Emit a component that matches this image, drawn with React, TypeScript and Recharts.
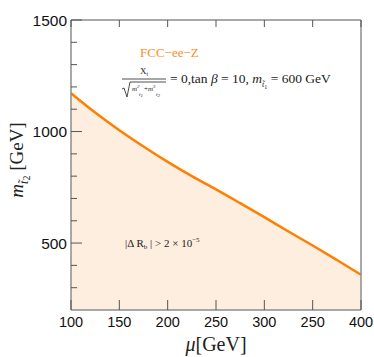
import { ComposedChart, Area, XAxis, YAxis } from 'recharts'

// mu [GeV] vs m_stop2 boundary
const mu = [100, 125, 150, 175, 200, 225, 250, 275, 300, 325, 350, 375, 400]
const mStop2 = [1172, 1085, 1006, 933, 864, 800, 741, 679, 616, 552, 489, 424, 358]

const xTicks = [100, 150, 200, 250, 300, 350, 400]
// the original figure labels 350 as "250"
const xTickLabels = ['100', '150', '200', '250', '300', '250', '400']
const yTicks = [300, 400, 500, 600, 700, 800, 900, 1000, 1100, 1200, 1300, 1400, 1500]
const yMajor = [500, 1000, 1500]

const data = mu.map((m, i) => ({ mu: m, m: mStop2[i] }))

const W = 374
const H = 357
const frame = '#8c8c8c'
const tickColor = '#555'
const orange = '#ff8000'
const sans = "'Liberation Sans', Arial, sans-serif"
const serif = "'Liberation Serif', 'Times New Roman', serif"

function BottomTick(props: any) {
  const { x, y, payload } = props
  const i = xTicks.indexOf(payload.value)
  return (
    <g>
      <line x1={x} x2={x} y1={y} y2={y - 10} stroke={tickColor} strokeWidth={1} />
      <text x={x} y={y + 17} textAnchor="middle" style={{ fontSize: 14.5, fontFamily: sans }} fill="#111">
        {i >= 0 ? xTickLabels[i] : payload.value}
      </text>
    </g>
  )
}

function TopTick(props: any) {
  const { x, y } = props
  return <line x1={x} x2={x} y1={y} y2={y + 7} stroke={tickColor} strokeWidth={1} />
}

function LeftTick(props: any) {
  const { x, y, payload } = props
  const major = yMajor.includes(payload.value)
  return (
    <g>
      <line x1={x} x2={x + (major ? 11 : 6)} y1={y} y2={y} stroke={tickColor} strokeWidth={1} />
      {major && (
        <text x={x - 4} y={y + 5.5} textAnchor="end" style={{ fontSize: 15.5, fontFamily: sans }} fill="#111">
          {payload.value}
        </text>
      )}
    </g>
  )
}

function RightTick(props: any) {
  const { x, y, payload } = props
  const major = yMajor.includes(payload.value)
  return <line x1={x} x2={x - (major ? 11 : 6)} y1={y} y2={y} stroke={tickColor} strokeWidth={1} />
}

export default function App() {
  return (
    <div style={{ position: 'relative', width: W, height: H, background: '#fff' }}>
      <style>{'body{margin:0}'}</style>
      <ComposedChart width={W} height={H} data={data} margin={{ top: 0, right: 0, bottom: 0, left: 0 }}>
        <XAxis
          dataKey="mu"
          type="number"
          domain={[100, 400]}
          ticks={xTicks}
          interval={0}
          height={47}
          tickSize={0}
          tickMargin={0}
          tickLine={false}
          axisLine={{ stroke: frame, strokeWidth: 1.5 }}
          tick={<BottomTick />}
        />
        <XAxis
          xAxisId="top"
          orientation="top"
          dataKey="mu"
          type="number"
          domain={[100, 400]}
          ticks={xTicks}
          interval={0}
          height={20}
          tickSize={0}
          tickMargin={0}
          tickLine={false}
          axisLine={{ stroke: frame, strokeWidth: 1.5 }}
          tick={<TopTick />}
        />
        <YAxis
          type="number"
          domain={[200, 1500]}
          ticks={yTicks}
          interval={0}
          width={71}
          tickSize={0}
          tickMargin={0}
          tickLine={false}
          axisLine={{ stroke: frame, strokeWidth: 1.5 }}
          tick={<LeftTick />}
        />
        <YAxis
          yAxisId="right"
          orientation="right"
          type="number"
          domain={[200, 1500]}
          ticks={yTicks}
          interval={0}
          width={13}
          tickSize={0}
          tickMargin={0}
          tickLine={false}
          axisLine={{ stroke: frame, strokeWidth: 1.5 }}
          tick={<RightTick />}
        />
        <Area
          dataKey="m"
          type="monotone"
          stroke={orange}
          strokeWidth={2.5}
          fill="#fdeee0"
          fillOpacity={1}
          isAnimationActive={false}
          dot={false}
          activeDot={false}
        />
      </ComposedChart>

      <svg
        width={W}
        height={H}
        style={{ position: 'absolute', left: 0, top: 0, pointerEvents: 'none', fontFamily: serif }}
      >
        {/* in-plot annotations */}
        <text x={140} y={57} fontSize={13} fill="#ff8c1a">FCC−ee−Z</text>

        <text x={140} y={74} fontSize={9} fill="#222">
          X<tspan fontSize={6} dy={2}>t</tspan>
        </text>
        <line x1={122} x2={166} y1={79} y2={79} stroke="#222" strokeWidth={0.8} />
        <path d="M122,89 L124,88 L127,97 L130,82 L166,82" fill="none" stroke="#222" strokeWidth={0.8} />
        <text x={132} y={91} fontSize={7} fontStyle="italic" fill="#222">
          m<tspan fontSize={5} dy={-3}>2</tspan>
        </text>
        <text x={139} y={96} fontSize={5} fontStyle="italic" fill="#222">t̃<tspan dy={1}>1</tspan></text>
        <text x={144} y={91} fontSize={7} fill="#222">
          +<tspan fontStyle="italic">m</tspan><tspan fontSize={5} dy={-3}>2</tspan>
        </text>
        <text x={156} y={96} fontSize={5} fontStyle="italic" fill="#222">t̃<tspan dy={1}>2</tspan></text>

        <text x={170} y={83} fontSize={13.5} fill="#222">
          = 0,tan <tspan fontStyle="italic">β</tspan> = 10, <tspan fontStyle="italic">m</tspan>
          <tspan fontSize={8} dy={4} fontStyle="italic">t̃</tspan>
          <tspan fontSize={6} dy={2}>1</tspan>
          <tspan dy={-6}> = 600 GeV</tspan>
        </text>

        <text x={125} y={247} fontSize={11} fill="#222">
          |Δ R<tspan fontSize={7} dy={2}>b</tspan><tspan dy={-2}> | &gt; 2 × 10</tspan>
          <tspan fontSize={7} dy={-5}>−5</tspan>
        </text>

        {/* axis titles */}
        <text x={216} y={351} fontSize={20} textAnchor="middle" fill="#222">
          <tspan fontStyle="italic">μ</tspan>[GeV]
        </text>
        <text transform="translate(23,160) rotate(-90)" fontSize={19} textAnchor="middle" fill="#222">
          <tspan fontStyle="italic">m</tspan>
          <tspan fontSize={12} dy={5} fontStyle="italic">t̃</tspan>
          <tspan fontSize={10} dy={2}>2</tspan>
          <tspan dy={-7}> [GeV]</tspan>
        </text>
      </svg>
    </div>
  )
}
